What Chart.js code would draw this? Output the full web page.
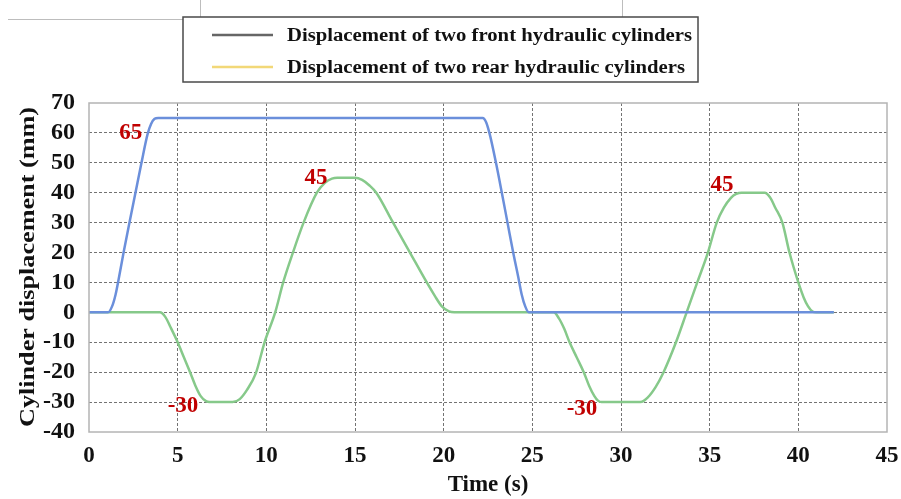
<!DOCTYPE html>
<html>
<head>
<meta charset="utf-8">
<script src="https://cdn.jsdelivr.net/npm/chart.js@4/dist/chart.umd.min.js"></script>
<style>
html,body{margin:0;padding:0;background:#fff;}
#wrap{width:901px;height:499px;position:relative;}
</style>
</head>
<body>
<div id="wrap"><canvas id="c" width="901" height="499"></canvas></div>
<script>
// ---- data ----
const frontTime = [0, 1.07, 1.3, 1.5, 1.7, 1.95, 2.28, 2.62, 2.96, 3.3, 3.5, 3.7, 3.9, 22.2, 22.4, 22.6, 22.95, 23.28, 23.6, 23.92, 24.2, 24.4, 24.6, 24.8, 42];
const frontDisp = [0, 0, 2, 6, 12, 20, 30, 40, 50, 59.5, 63, 64.7, 65, 65, 63.5, 59.5, 50, 40, 30, 20, 12, 6, 2, 0, 0];
const rearTime = [0, 4.0, 4.3, 4.6, 5.0, 5.35, 5.7, 6.0, 6.3, 6.6, 6.8, 8.1, 8.5, 8.9, 9.4, 9.9, 10.5, 10.95, 11.5, 12.1, 12.85, 13.3, 13.7, 14.0, 15.0, 15.4, 15.8, 16.2, 17.1, 18.1, 19.0, 19.5, 19.9, 20.3, 20.6, 26.2, 26.5, 26.8, 27.1, 27.5, 27.9, 28.2, 28.5, 28.7, 28.9, 31.1, 31.5, 31.95, 32.4, 33.1, 33.7, 34.3, 34.9, 35.4, 35.8, 36.2, 36.5, 36.8, 38.1, 38.4, 38.7, 39.1, 39.5, 40.0, 40.3, 40.55, 40.8, 41.0, 42];
const rearDisp = [0, 0, -1.5, -5, -10, -15, -20, -24.5, -28, -29.7, -30, -30, -29, -26, -20.5, -10, 0, 10, 20, 30, 40, 43.3, 44.7, 45, 45, 44.3, 42.5, 40, 30.5, 20, 10.5, 5.5, 2, 0.3, 0, 0, -2, -5.5, -10, -15, -20, -24.5, -28, -29.5, -30, -30, -28.5, -25, -20, -10, 0, 10, 20, 30, 35, 38.3, 39.6, 40, 40, 38.5, 35, 30, 20, 10, 5, 2, 0.3, 0, 0];
const legendLabels = ["Displacement of two front hydraulic cylinders", "Displacement of two rear hydraulic cylinders"];
const annoTime = [2.35, 12.8, 5.3, 27.8, 35.7];
const annoDisp = [60, 45, -31.3, -32.3, 42.7];
const annoText = ["65", "45", "-30", "-30", "45"];
const xTitle = "Time (s)";
const yTitle = "Cylinder displacement (mm)";

const toXY = (t, v) => t.map((x, i) => ({x: x, y: v[i]}));
const serif = "'Liberation Serif', 'Times New Roman', serif";

function stretchedText(ctx, text, x, y, targetW) {
  const w = ctx.measureText(text).width;
  const k = targetW / w;
  ctx.save();
  ctx.translate(x, y);
  ctx.scale(k, 1);
  ctx.fillText(text, 0, 0);
  ctx.restore();
}

const decor = {
  id: 'decor',
  beforeDraw(chart) {
    const ctx = chart.ctx;
    ctx.save();
    ctx.strokeStyle = '#bdbdbd';
    ctx.lineWidth = 1;
    ctx.beginPath();
    ctx.moveTo(8, 19.5); ctx.lineTo(183, 19.5);
    ctx.moveTo(200.5, 0); ctx.lineTo(200.5, 17);
    ctx.moveTo(622.5, 0); ctx.lineTo(622.5, 17);
    ctx.stroke();
    // y title
    ctx.fillStyle = '#111';
    ctx.font = "bold 22px " + serif;
    ctx.textAlign = 'left';
    ctx.textBaseline = 'middle';
    ctx.translate(28, 427);
    ctx.rotate(-Math.PI / 2);
    stretchedText(ctx, yTitle, 0, 0, 320);
    ctx.restore();
  },
  afterDatasetsDraw(chart) {
    const ctx = chart.ctx;
    const a = chart.chartArea;
    const xs = chart.scales.x, ys = chart.scales.y;
    ctx.save();
    // frame
    ctx.strokeStyle = '#b4b4b4';
    ctx.lineWidth = 1.5;
    ctx.strokeRect(a.left, a.top, a.right - a.left, a.bottom - a.top);
    // annotations
    ctx.fillStyle = '#c00000';
    ctx.font = "bold 23px " + serif;
    ctx.textAlign = 'center';
    ctx.textBaseline = 'middle';
    annoText.forEach((t, i) => {
      ctx.fillText(t, xs.getPixelForValue(annoTime[i]), ys.getPixelForValue(annoDisp[i]));
    });
    // legend
    ctx.strokeStyle = '#4a4a4a';
    ctx.lineWidth = 1.5;
    ctx.fillStyle = '#fff';
    ctx.fillRect(183, 17, 515, 65);
    ctx.strokeRect(183, 17, 515, 65);
    const legColors = ['#666666', '#f2d878'];
    const rowsY = [35, 67];
    const rowsW = [405, 398];
    ctx.textAlign = 'left';
    ctx.fillStyle = '#111';
    ctx.font = "bold 18px " + serif;
    legendLabels.forEach((lab, i) => {
      ctx.strokeStyle = legColors[i];
      ctx.lineWidth = 2.5;
      ctx.beginPath();
      ctx.moveTo(212, rowsY[i]); ctx.lineTo(273, rowsY[i]);
      ctx.stroke();
      stretchedText(ctx, lab, 287, rowsY[i] + 1, rowsW[i]);
    });
    ctx.restore();
  }
};

new Chart(document.getElementById('c'), {
  type: 'line',
  data: {
    datasets: [
      {label: legendLabels[0], data: toXY(frontTime, frontDisp), borderColor: '#6b8fdb', borderWidth: 2.5, pointRadius: 0, cubicInterpolationMode: 'monotone', fill: false},
      {label: legendLabels[1], data: toXY(rearTime, rearDisp), borderColor: '#86c98a', borderWidth: 2.5, pointRadius: 0, cubicInterpolationMode: 'monotone', fill: false}
    ]
  },
  options: {
    responsive: false,
    animation: false,
    devicePixelRatio: 1,
    layout: {padding: {left: 0, right: 14, top: 103, bottom: 0}},
    plugins: {legend: {display: false}, tooltip: {enabled: false}},
    scales: {
      x: {
        type: 'linear', min: 0, max: 45,
        afterFit(s) { s.height = 67; s.paddingRight = 0; s.paddingLeft = 0; },
        ticks: {stepSize: 5, autoSkip: false, color: '#111', font: {family: serif, size: 23, weight: 'bold'}, padding: 10, maxRotation: 0},
        grid: {color: (c) => (c.tick && (c.tick.value === 0 || c.tick.value === 45)) ? 'rgba(0,0,0,0)' : 'rgba(90,90,90,0.85)', lineWidth: 1, drawTicks: false},
        border: {display: false, dash: [3, 2]},
        title: {display: true, text: xTitle, color: '#111', font: {family: serif, size: 23, weight: 'bold'}, padding: {top: 0, bottom: 0}}
      },
      y: {
        min: -40, max: 70,
        afterFit(s) { s.width = 89; s.paddingTop = 0; s.paddingBottom = 0; },
        ticks: {stepSize: 10, autoSkip: false, color: '#111', font: {family: serif, size: 24, weight: 'bold'}, padding: 14},
        grid: {color: (c) => (c.tick && (c.tick.value === 70 || c.tick.value === -40)) ? 'rgba(0,0,0,0)' : 'rgba(90,90,90,0.85)', lineWidth: 1, drawTicks: false},
        border: {display: false, dash: [3, 2]},
        title: {display: false}
      }
    }
  },
  plugins: [decor]
});
</script>
</body>
</html>
